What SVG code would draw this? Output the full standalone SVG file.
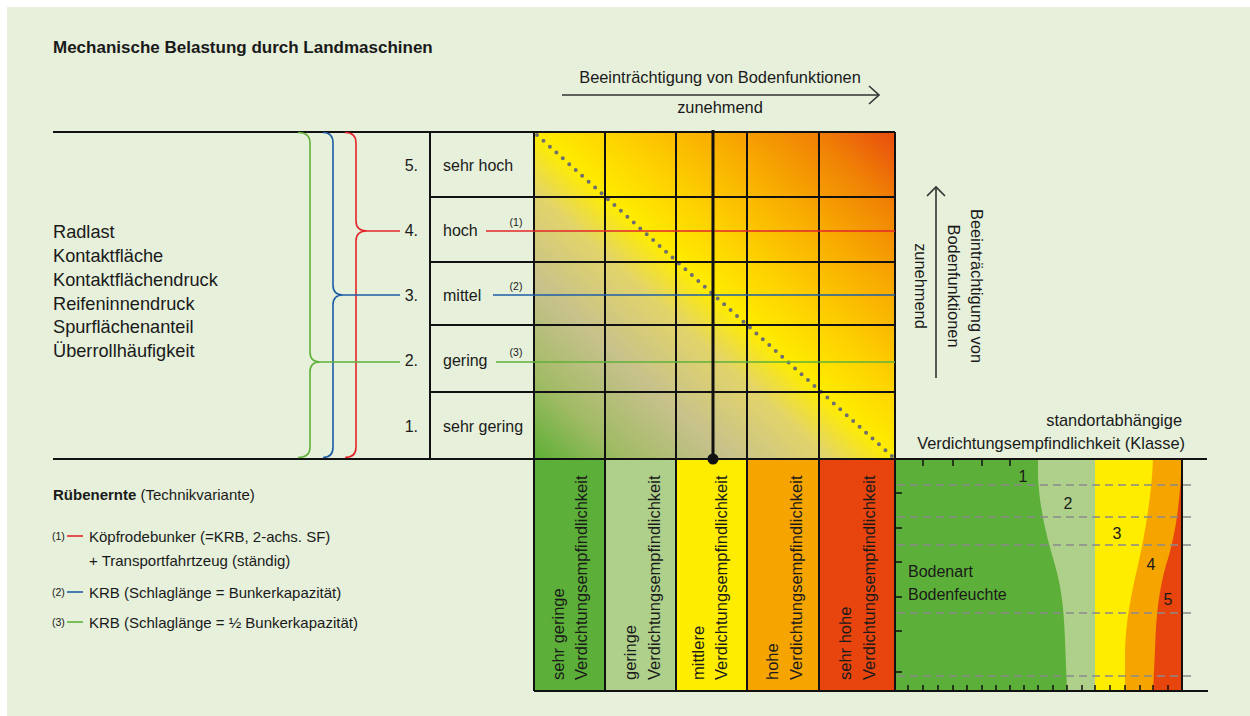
<svg xmlns="http://www.w3.org/2000/svg" width="1250" height="716" viewBox="0 0 1250 716">
  <defs>
    <!-- stress field: green (low) through yellow ridge on the diagonal to red (high) -->
    <linearGradient id="stressGrad" gradientUnits="userSpaceOnUse" x1="551.8" y1="475.1" x2="877.2" y2="115.9">
      <stop offset="0" stop-color="#5caf35"/>
      <stop offset="0.13" stop-color="#a2bb66"/>
      <stop offset="0.27" stop-color="#c7c18c"/>
      <stop offset="0.41" stop-color="#e2d46a"/>
      <stop offset="0.5" stop-color="#ffec00"/>
      <stop offset="0.6" stop-color="#fed400"/>
      <stop offset="0.75" stop-color="#f8ab00"/>
      <stop offset="0.88" stop-color="#f08205"/>
      <stop offset="1" stop-color="#e84c0e"/>
    </linearGradient>
    <style>
      text { font-family: "Liberation Sans", Arial, sans-serif; fill: #1a1a1a; }
      .title { font-size: 17px; font-weight: bold; }
      .body { font-size: 16.4px; }
      .factor { font-size: 18.2px; }
      .lvl { font-size: 16px; }
      .col { font-size: 16.5px; }
      .leg { font-size: 15px; }
      .sup { font-size: 10.5px; }
      .grid { stroke: #111; stroke-width: 2; fill: none; }
      .axis { stroke: #333; stroke-width: 1.6; fill: none; }
      .red { stroke: #e3262a; }
      .blue { stroke: #1d5ea6; }
      .green { stroke: #5fb13a; }
      .brace { fill: none; stroke-width: 1.6; }
      .lead { stroke-width: 1.6; }
      .dash { stroke: #8a8a8a; stroke-width: 1.5; stroke-dasharray: 8 5; fill: none; }
      .tick { stroke: #111; stroke-width: 1.5; }
    </style>
  </defs>

  <!-- page background -->
  <rect x="7" y="7" width="1243" height="709" fill="#e6f0da"/>

  <g id="title">
    <text class="title" x="53" y="53">Mechanische Belastung durch Landmaschinen</text>
  </g>

  <!-- horizontal axis caption -->
  <g id="axis-top">
    <text class="body" x="720" y="83" text-anchor="middle">Beeinträchtigung von Bodenfunktionen</text>
    <line class="axis" x1="562" y1="95" x2="878" y2="95"/>
    <polyline class="axis" points="869,86 879,95 869,104"/>
    <text class="body" x="720" y="113" text-anchor="middle">zunehmend</text>
  </g>

  <!-- vertical axis caption -->
  <g id="axis-right">
    <line class="axis" x1="936" y1="378" x2="936" y2="188"/>
    <polyline class="axis" points="927,196 936,187 945,196"/>
    <text class="body" transform="translate(971,286) rotate(90)" text-anchor="middle">Beeinträchtigung von</text>
    <text class="body" transform="translate(948,286) rotate(90)" text-anchor="middle">Bodenfunktionen</text>
    <text class="body" transform="translate(915,286) rotate(90)" text-anchor="middle">zunehmend</text>
  </g>

  <!-- load factors -->
  <g id="factors">
    <text class="factor" x="53" y="238">Radlast</text>
    <text class="factor" x="53" y="262">Kontaktfläche</text>
    <text class="factor" x="53" y="286">Kontaktflächendruck</text>
    <text class="factor" x="53" y="310">Reifeninnendruck</text>
    <text class="factor" x="53" y="333">Spurflächenanteil</text>
    <text class="factor" x="53" y="357">Überrollhäufigkeit</text>
  </g>

  <!-- stress matrix -->
  <g id="matrix">
    <rect x="534" y="132" width="361" height="327" fill="url(#stressGrad)"/>
    <line x1="537" y1="135" x2="893" y2="457" stroke="#6f6f6f" stroke-width="4" stroke-linecap="round" stroke-dasharray="0 8.7"/>
  </g>

  <!-- sensitivity columns -->
  <g id="columns">
    <rect x="534" y="459" width="71" height="232" fill="#5caf38"/>
    <rect x="605" y="459" width="71" height="232" fill="#aed08a"/>
    <rect x="676" y="459" width="71" height="232" fill="#ffed00"/>
    <rect x="747" y="459" width="72" height="232" fill="#f6a500"/>
    <rect x="819" y="459" width="76" height="232" fill="#e8450e"/>
    <text class="col" transform="translate(564,680) rotate(-90)">sehr geringe</text>
    <text class="col" transform="translate(587,680) rotate(-90)">Verdichtungsempfindlichkeit</text>
    <text class="col" transform="translate(636,680) rotate(-90)">geringe</text>
    <text class="col" transform="translate(660,680) rotate(-90)">Verdichtungsempfindlichkeit</text>
    <text class="col" transform="translate(704,680) rotate(-90)">mittlere</text>
    <text class="col" transform="translate(727,680) rotate(-90)">Verdichtungsempfindlichkeit</text>
    <text class="col" transform="translate(778,680) rotate(-90)">hohe</text>
    <text class="col" transform="translate(802,680) rotate(-90)">Verdichtungsempfindlichkeit</text>
    <text class="col" transform="translate(851,680) rotate(-90)">sehr hohe</text>
    <text class="col" transform="translate(875,680) rotate(-90)">Verdichtungsempfindlichkeit</text>
  </g>

  <!-- site-dependent compaction sensitivity -->
  <g id="soil-chart">
    <rect x="895" y="459" width="287" height="232" fill="#e8450e"/>
    <path d="M895,459 L1182,459 C1180,500 1176,535 1166,565 C1159,590 1156,615 1155,650 L1153,691 L895,691 Z" fill="#f6a500"/>
    <path d="M895,459 L1153,459 C1152,490 1146,530 1138,565 C1131,595 1126,620 1125,650 L1125,691 L895,691 Z" fill="#ffed00"/>
    <rect x="895" y="459" width="200" height="232" fill="#aed08a"/>
    <path d="M895,459 L1038,459 L1038,478 C1040,510 1046,535 1055,565 C1062,590 1064,612 1065,640 L1067,691 L895,691 Z" fill="#5caf38"/>
    <g class="dash">
      <line x1="897" y1="485" x2="1195" y2="485"/>
      <line x1="897" y1="517" x2="1195" y2="517"/>
      <line x1="897" y1="545" x2="1195" y2="545"/>
      <line x1="897" y1="613" x2="1195" y2="613"/>
      <line x1="897" y1="676" x2="1195" y2="676"/>
    </g>
    <g class="tick">
      <line x1="923" y1="459" x2="923" y2="466"/>
      <line x1="953" y1="459" x2="953" y2="466"/>
      <line x1="982" y1="459" x2="982" y2="466"/>
      <line x1="1010" y1="459" x2="1010" y2="466"/>
      <line x1="895" y1="493" x2="902" y2="493"/>
      <line x1="895" y1="528" x2="902" y2="528"/>
      <line x1="895" y1="562" x2="902" y2="562"/>
      <line x1="895" y1="597" x2="902" y2="597"/>
      <line x1="895" y1="631" x2="902" y2="631"/>
      <line x1="895" y1="672" x2="902" y2="672"/>
      <line x1="908" y1="691" x2="908" y2="685"/>
      <line x1="923" y1="691" x2="923" y2="685"/>
      <line x1="938" y1="691" x2="938" y2="685"/>
      <line x1="953" y1="691" x2="953" y2="685"/>
      <line x1="967" y1="691" x2="967" y2="685"/>
      <line x1="982" y1="691" x2="982" y2="685"/>
      <line x1="996" y1="691" x2="996" y2="685"/>
      <line x1="1010" y1="691" x2="1010" y2="685"/>
      <line x1="1024" y1="691" x2="1024" y2="685"/>
      <line x1="1038" y1="691" x2="1038" y2="685"/>
      <line x1="1053" y1="691" x2="1053" y2="685"/>
      <line x1="1067" y1="691" x2="1067" y2="685"/>
      <line x1="1082" y1="691" x2="1082" y2="685"/>
      <line x1="1095" y1="691" x2="1095" y2="685"/>
      <line x1="1110" y1="691" x2="1110" y2="685"/>
      <line x1="1125" y1="691" x2="1125" y2="685"/>
      <line x1="1140" y1="691" x2="1140" y2="685"/>
      <line x1="1153" y1="691" x2="1153" y2="685"/>
      <line x1="1168" y1="691" x2="1168" y2="685"/>
    </g>
    <text class="lvl" x="1023" y="482" text-anchor="middle">1</text>
    <text class="lvl" x="1068" y="509" text-anchor="middle">2</text>
    <text class="lvl" x="1117" y="539" text-anchor="middle">3</text>
    <text class="lvl" x="1151" y="570" text-anchor="middle">4</text>
    <text class="lvl" x="1168" y="605" text-anchor="middle">5</text>
    <text class="lvl" x="908" y="577">Bodenart</text>
    <text class="lvl" x="908" y="600">Bodenfeuchte</text>
    <line class="grid" x1="1182" y1="459" x2="1182" y2="691"/>
    <text class="body" x="1182" y="426" text-anchor="end">standortabhängige</text>
    <text class="body" x="1185" y="449" text-anchor="end">Verdichtungsempfindlichkeit (Klasse)</text>
  </g>

  <!-- frame and grid lines -->
  <g id="grid-lines" class="grid">
    <line x1="53" y1="132" x2="895" y2="132"/>
    <line x1="53" y1="459" x2="1207" y2="459"/>
    <line x1="534" y1="691" x2="1208" y2="691"/>
    <line x1="430" y1="132" x2="430" y2="459"/>
    <line x1="430" y1="197" x2="895" y2="197"/>
    <line x1="430" y1="262" x2="895" y2="262"/>
    <line x1="430" y1="325" x2="895" y2="325"/>
    <line x1="430" y1="392" x2="895" y2="392"/>
    <line x1="534" y1="132" x2="534" y2="691"/>
    <line x1="605" y1="132" x2="605" y2="691"/>
    <line x1="676" y1="132" x2="676" y2="691"/>
    <line x1="747" y1="132" x2="747" y2="691"/>
    <line x1="819" y1="132" x2="819" y2="691"/>
    <line x1="895" y1="132" x2="895" y2="691"/>
  </g>

  <!-- load levels -->
  <g id="levels">
    <text class="lvl" x="418" y="171" text-anchor="end">5.</text>
    <text class="lvl" x="418" y="236" text-anchor="end">4.</text>
    <text class="lvl" x="418" y="301" text-anchor="end">3.</text>
    <text class="lvl" x="418" y="366" text-anchor="end">2.</text>
    <text class="lvl" x="418" y="432" text-anchor="end">1.</text>
    <text class="lvl" x="443" y="171">sehr hoch</text>
    <text class="lvl" x="443" y="236">hoch</text>
    <text class="lvl" x="443" y="301">mittel</text>
    <text class="lvl" x="443" y="366">gering</text>
    <text class="lvl" x="443" y="432">sehr gering</text>
    <text class="sup" x="516" y="226" text-anchor="middle">(1)</text>
    <text class="sup" x="516" y="290" text-anchor="middle">(2)</text>
    <text class="sup" x="516" y="356" text-anchor="middle">(3)</text>
  </g>

  <!-- braces and variant lines -->
  <g id="connectors">
    <path class="brace green" d="M298,132.5 Q310,132.5 310,143 L310,352 Q310,362 320,362 Q310,362 310,372 L310,447 Q310,457.5 298,457.5"/>
    <path class="brace blue" d="M323,132.5 Q333,132.5 333,143 L333,285 Q333,295 343,295 Q333,295 333,305 L333,447 Q333,457.5 323,457.5"/>
    <path class="brace red" d="M345,132.5 Q356,132.5 356,143 L356,221 Q356,231 367,231 Q356,231 356,241 L356,447 Q356,457.5 345,457.5"/>
    <line class="lead red" x1="367" y1="231" x2="400" y2="231"/>
    <line class="lead blue" x1="343" y1="295" x2="400" y2="295"/>
    <line class="lead green" x1="320" y1="362" x2="400" y2="362"/>
    <line class="lead red" x1="486" y1="231" x2="895" y2="231"/>
    <line class="lead blue" x1="493" y1="295" x2="895" y2="295"/>
    <line class="lead green" x1="496" y1="362" x2="895" y2="362"/>
    <line x1="713" y1="130" x2="713" y2="459" stroke="#111" stroke-width="3"/>
    <circle cx="713" cy="459" r="5.5" fill="#111"/>
  </g>

  <!-- legend -->
  <g id="legend">
    <text class="leg" x="53" y="500"><tspan font-weight="bold">Rübenernte</tspan> (Technikvariante)</text>
    <text class="sup" x="52" y="540">(1)</text>
    <line class="lead red" x1="67" y1="536" x2="83" y2="536" stroke-width="2.5"/>
    <text class="leg" x="89" y="542">Köpfrodebunker (=KRB, 2-achs. SF)</text>
    <text class="leg" x="89" y="566">+ Transportfahrtzeug (ständig)</text>
    <text class="sup" x="52" y="596">(2)</text>
    <line class="lead blue" x1="67" y1="592" x2="83" y2="592" stroke-width="2.5"/>
    <text class="leg" x="89" y="598">KRB (Schlaglänge = Bunkerkapazität)</text>
    <text class="sup" x="52" y="626">(3)</text>
    <line class="lead green" x1="67" y1="622" x2="83" y2="622" stroke-width="2.5"/>
    <text class="leg" x="89" y="628">KRB (Schlaglänge = ½ Bunkerkapazität)</text>
  </g>
</svg>
